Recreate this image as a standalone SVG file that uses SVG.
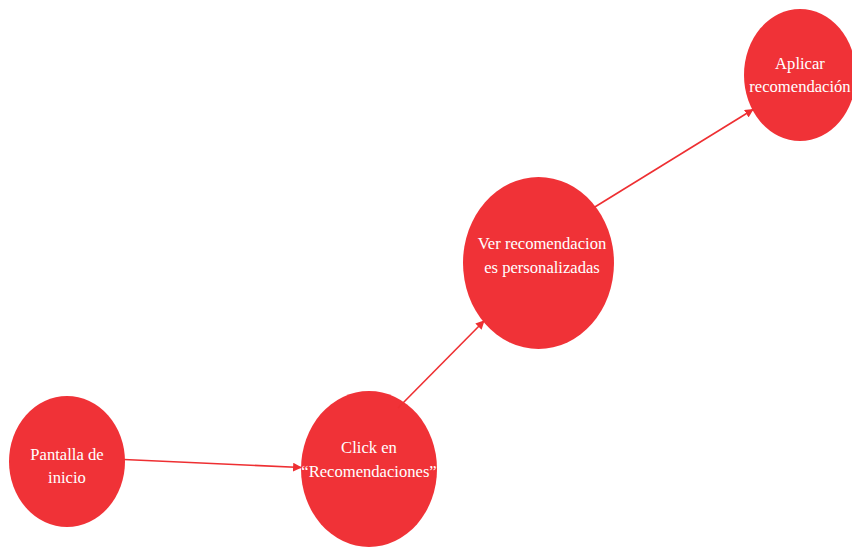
<svg xmlns="http://www.w3.org/2000/svg" width="852" height="548" viewBox="0 0 852 548">
  <style>
    .node { fill: #F03237; }
    .label { fill: #FFFFFF; font-family: "Liberation Serif", "DejaVu Serif", serif; font-size: 16.6px; text-anchor: middle; }
    .edge { stroke: #EE2F32; stroke-width: 1.6; fill: none; marker-end: url(#arrow); }
  </style>
  <defs>
    <marker id="arrow" viewBox="0 0 10 10" refX="9" refY="5" markerWidth="5.5" markerHeight="5.5" orient="auto" markerUnits="strokeWidth">
      <path d="M0,0 L10,5 L0,10 z" fill="#EE2F32"/>
    </marker>
  </defs>
  <rect width="852" height="548" fill="#FFFFFF"/>

  <g id="node-pantalla">
    <ellipse class="node" cx="67" cy="461.5" rx="58" ry="65.5"/>
    <text class="label" x="67" y="460">Pantalla de</text>
    <text class="label" x="67" y="483">inicio</text>
  </g>

  <g id="node-click">
    <ellipse class="node" cx="369" cy="469" rx="68" ry="78"/>
    <text class="label" x="369" y="453">Click en</text>
    <text class="label" x="369" y="477">“Recomendaciones”</text>
  </g>

  <g id="node-ver">
    <ellipse class="node" cx="538.5" cy="263" rx="75.5" ry="86"/>
    <text class="label" x="542" y="249">Ver recomendacion</text>
    <text class="label" x="542" y="273">es personalizadas</text>
  </g>

  <g id="node-aplicar">
    <ellipse class="node" cx="800" cy="75" rx="56" ry="66"/>
    <text class="label" x="800" y="69">Aplicar</text>
    <text class="label" x="800" y="92">recomendación</text>
  </g>

  <!-- connectors sit above the nodes -->
  <g id="connectors">
    <line class="edge" x1="124" y1="459.5" x2="301" y2="467.5"/>
    <line class="edge" x1="398" y1="408" x2="484" y2="321"/>
    <line class="edge" x1="594" y1="207.5" x2="753" y2="109.5"/>
  </g>
</svg>
